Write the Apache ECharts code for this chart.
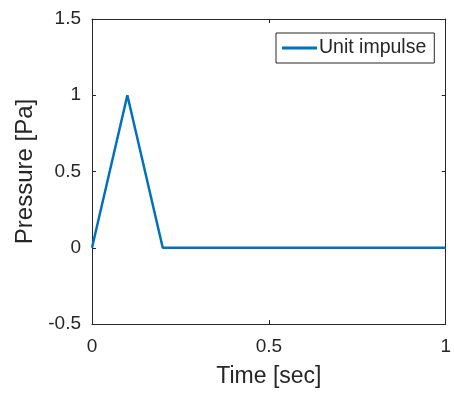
<!DOCTYPE html>
<html><head><meta charset="utf-8">
<script src="https://cdn.jsdelivr.net/npm/echarts@6/dist/echarts.min.js"></script>
<style>html,body{margin:0;padding:0;background:#fff}#c{width:454px;height:394px}</style>
</head><body><div id="c"></div>
<script>
const timeValues = [0, 0.1, 0.2, 1];
const pressureValues = [0, 1, 0, 0];
const seriesName = 'Unit impulse';
const xTicks = [0, 0.5, 1];
const yTicks = [-0.5, 0, 0.5, 1, 1.5];

const chart = echarts.init(document.getElementById('c'));
const txt = '#262626';
const font = 'Liberation Sans, Arial, sans-serif';
const tickFmt = v => String(v);
const common = {
  axisLine: {show: true, onZero: false, lineStyle: {color: txt, width: 1}},
  axisTick: {show: true, inside: true, length: 4, lineStyle: {color: txt}},
  splitLine: {show: false}
};
chart.setOption({
  animation: false,
  grid: {left: 92, right: 5, top: 19, bottom: 70, containLabel: false},
  legend: {
    data: [seriesName], left: 276, top: 33, padding: [5, 8, 5, 6],
    borderColor: txt, borderWidth: 1, backgroundColor: '#fff',
    icon: 'rect', itemWidth: 35, itemHeight: 3, itemGap: 0,
    textStyle: {color: txt, fontFamily: font, fontSize: 19.5, padding: [0, 0, 0, -3]}
  },
  xAxis: [
    Object.assign({type: 'value', min: xTicks[0], max: xTicks[xTicks.length-1], interval: 0.5,
      name: 'Time [sec]', nameLocation: 'middle', nameGap: 41,
      nameTextStyle: {color: txt, fontFamily: font, fontSize: 23},
      axisLabel: {color: txt, fontFamily: font, fontSize: 19, margin: 13, formatter: tickFmt}}, common),
    Object.assign({type: 'value', position: 'top', min: 0, max: 1, interval: 0.5,
      axisLabel: {show: false}}, common)
  ],
  yAxis: [
    Object.assign({type: 'value', min: yTicks[0], max: yTicks[yTicks.length-1], interval: 0.5,
      name: 'Pressure [Pa]', nameLocation: 'middle', nameGap: 54,
      nameTextStyle: {color: txt, fontFamily: font, fontSize: 24},
      axisLabel: {color: txt, fontFamily: font, fontSize: 19, margin: 11, formatter: tickFmt}}, common),
    Object.assign({type: 'value', position: 'right', min: -0.5, max: 1.5, interval: 0.5,
      axisLabel: {show: false}}, common)
  ],
  series: [{
    name: seriesName, type: 'line', showSymbol: false, symbol: 'none',
    data: timeValues.map((t, i) => [t, pressureValues[i]]),
    lineStyle: {color: '#0072BD', width: 2.5}, itemStyle: {color: '#0072BD'}
  }]
});
</script></body></html>
